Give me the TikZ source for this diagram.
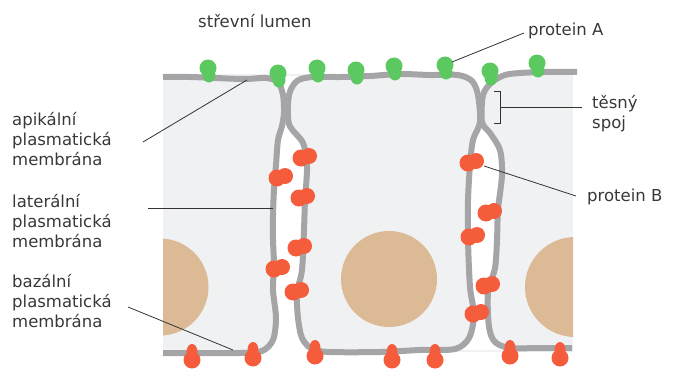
\documentclass[tikz,border=0pt]{standalone}
\usepackage{fontspec}
\setmainfont{DejaVu Sans}

\definecolor{membrane}{HTML}{A5A4A7}
\definecolor{cytosol}{HTML}{EFF1F2}
\definecolor{nucleus}{HTML}{DDBA96}
\definecolor{protA}{HTML}{5CC860}
\definecolor{protB}{HTML}{F45C3C}
\definecolor{labeltext}{HTML}{383838}

\tikzset{
  membr/.style = {draw = membrane, line width = 6pt, line cap = butt, line join = round},
  leader/.style = {draw = black!80, line width = 0.8pt},
  lbl/.style = {text = labeltext, font = \fontsize{16.5}{20}\selectfont,
                inner sep = 0pt, align = left}
}

\begin{document}
\begin{tikzpicture}[x = 1pt, y = -1pt]
  \useasboundingbox (0,0) rectangle (674,369);

  % cytosol and the white intercellular spaces
  \fill[cytosol] (163,74) rectangle (573,352);
  \fill[white] plot[smooth] coordinates {(270,76) (278,82) (283,95) (284,112)
      (282,126) (278,140) (276,165) (274,190) (273,215) (273,240) (274,265)
      (273,290) (276,318) (273,340) (262,352)}
    -- plot[smooth] coordinates {(312,352) (302,338) (298,318) (297,293)
      (302,270) (304,230) (305,200) (307,167) (303,143) (289,124) (289,95)
      (297,81) (312,76)} -- cycle;
  \fill[white] plot[smooth] coordinates {(458,74) (472,81) (478,95) (480,122)
      (473,140) (470,165) (468,200) (468,240) (470,287) (474,315) (469,338)
      (455,350)}
    -- plot[smooth] coordinates {(510,350) (495,342) (489,327) (488,293)
      (495,268) (497,240) (498,210) (502,175) (500,150) (490,133) (482,122)
      (483,95) (492,82) (505,74)} -- cycle;

  % nuclei
  \begin{scope}
    \clip (163,74) rectangle (573,352);
    \fill[nucleus] (160,287) circle (48.5);
    \fill[nucleus] (389,279) circle (48);
    \fill[nucleus] (575,287) circle (50);
  \end{scope}

  % membranes of the three cells
  \draw[membr] plot[smooth] coordinates {(163,77) (190,77) (215,78) (245,79)
      (266,78) (278,82) (283,95) (284,112) (282,126) (278,140) (276,165)
      (274,190) (273,215) (273,240) (274,265) (273,290) (276,318) (273,340)
      (262,351) (240,353) (163,353)};
  \draw[membr] plot[smooth cycle] coordinates {(340,77) (370,76) (400,74)
      (430,75) (458,75) (472,81) (478,95) (480,122) (473,140) (470,165)
      (468,200) (468,240) (470,287) (474,315) (469,338) (455,349) (420,350)
      (380,352) (330,352) (312,349) (302,338) (298,318) (297,293) (302,270)
      (304,230) (305,200) (307,167) (303,143) (289,124) (289,95) (297,81)
      (312,77)};
  \draw[membr] plot[smooth] coordinates {(577,72) (545,72) (520,73) (505,75)
      (492,82) (483,95) (482,122) (490,133) (500,150) (502,175) (498,210)
      (497,240) (495,268) (488,293) (489,327) (495,342) (510,348) (540,348)
      (572,348)};

  % protein A on the apical side
  \foreach \x/\y in {208/70, 278/75, 317/70, 356/72, 394/68, 445/67, 490/73, 537/65}
    {\fill[protA] (\x,\y-2) circle (8.5);
     \fill[protA] (\x+1,\y+5) ellipse (6.5 and 7.5);}

  % protein B on the lateral sides
  \foreach \x/\y in {305/157, 281/177, 303/197, 300/247, 278/268, 297/291,
                     472/162, 490/212, 473/236, 488/285, 477/313}
    {\fill[protB] (\x-4,\y+1) circle (8.5);
     \fill[protB] (\x+4,\y-1) circle (8);}

  % protein B on the basal side
  \foreach \x/\y in {192/357, 253/355, 315/353, 392/357, 435/357, 510/353, 560/355}
    {\fill[protB] (\x,\y+3) circle (8.5);
     \fill[protB] (\x,\y-5) ellipse (5.5 and 8);}

  % labels
  \node[lbl, anchor = base west] (lumen) at (198,28) {střevní lumen};
  \node[lbl, anchor = base west] (protAlbl) at (528,36) {protein A};
  \node[lbl, anchor = north west] (tesny) at (592,95) {těsný\\spoj};
  \node[lbl, anchor = base west] (protBlbl) at (587,201) {protein B};
  \node[lbl, anchor = north west] (apikal) at (12,112)
    {apikální\\plasmatická\\membrána};
  \node[lbl, anchor = north west] (lateral) at (12,194)
    {laterální\\plasmatická\\membrána};
  \node[lbl, anchor = north west] (bazal) at (12,274)
    {bazální\\plasmatická\\membrána};

  % leader lines
  \coordinate (apiA) at (143,142);  \coordinate (apiB) at (247,80);
  \coordinate (latA) at (148,208);  \coordinate (latB) at (273,208);
  \coordinate (bazA) at (128,307);  \coordinate (bazB) at (233,350);
  \coordinate (pAa) at (452,62);    \coordinate (pAb) at (524,33);
  \coordinate (pBa) at (484,166);   \coordinate (pBb) at (576,196);
  \coordinate (spojA) at (500,107); \coordinate (spojB) at (582,107);
  \draw[leader] (apiA) -- (apiB);
  \draw[leader] (latA) -- (latB);
  \draw[leader] (bazA) -- (bazB);
  \draw[leader] (pAa) -- (pAb);
  \draw[leader] (pBa) -- (pBb);
  \draw[leader] (494,91) -- (500,91) -- (500,123) -- (494,123);
  \draw[leader] (spojA) -- (spojB);
\end{tikzpicture}
\end{document}
